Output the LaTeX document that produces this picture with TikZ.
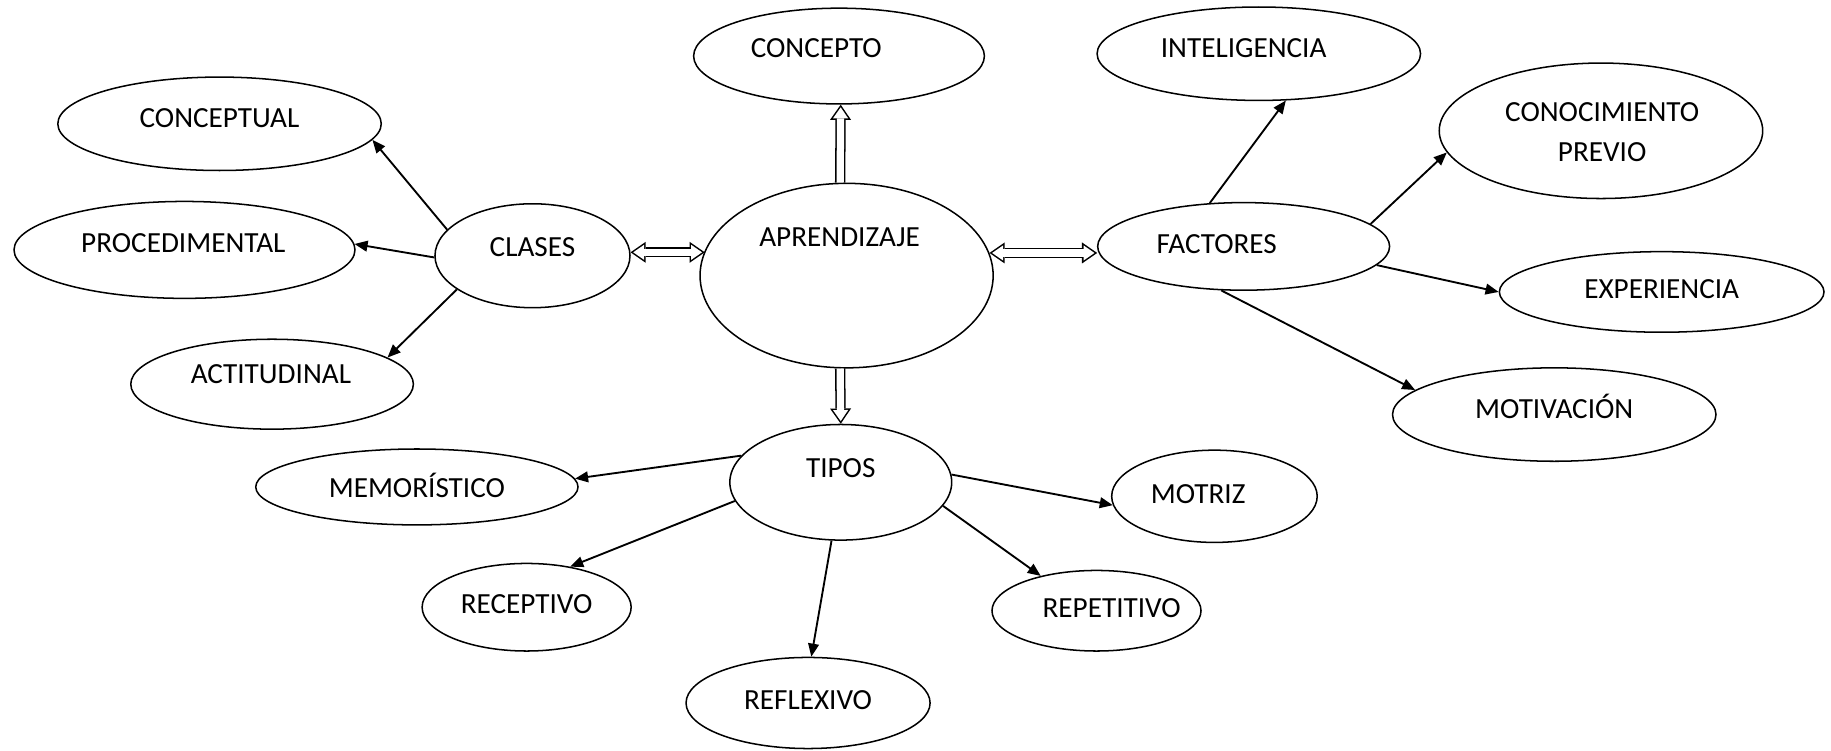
\documentclass[tikz,border=0pt]{standalone}
\usepackage{fontspec}
\setmainfont{Carlito}
\usetikzlibrary{shapes.geometric,arrows.meta}
\tikzset{
	>={Triangle[length=5.6pt,width=4.6pt]}
}

\begin{document}
\begin{tikzpicture}[
	x = 0.5pt,
	y = -0.5pt,
	line width = 0.65pt,
	every node/.style = {
		font = \fontsize{12.5}{17}\selectfont
	},
	oval/.style 2 args = {
		draw,
		ellipse,
		inner sep = 0pt,
		minimum width = #1*0.5pt,
		minimum height = #2*0.5pt
	},
	txt/.style = {
		inner sep = 0pt,
		text height = 8pt,
		text depth = 0pt
	},
	link/.style = {
		->,
		line width = 0.8pt
	},
	hollow/.style = {
		line width = 4.4pt,
		-{Triangle[length=6.5pt,width=9pt,line width=0pt]},
		postaction = {draw=white, line width=3.1pt, shorten >=1.15pt,
			-{Triangle[length=4.7pt,width=6.5pt,line width=0pt]}}
	},
	hollow both/.style = {
		line width = 4.4pt,
		{Triangle[length=6.5pt,width=9pt,line width=0pt]}-{Triangle[length=6.5pt,width=9pt,line width=0pt]},
		postaction = {draw=white, line width=3.1pt, shorten >=1.15pt, shorten <=1.15pt,
			{Triangle[length=4.7pt,width=6.5pt,line width=0pt]}-{Triangle[length=4.7pt,width=6.5pt,line width=0pt]}}
	}
	]
	
	\useasboundingbox (0,0) rectangle (1568,643);
	
	% centro
	\node (aprendizaje) [oval={251}{158}] at (725,236) {};
	\node (aprendizaje_txt) [txt] at (719,203) {APRENDIZAJE};
	\node (concepto) [oval={249}{82}] at (718.5,48) {};
	\node (concepto_txt) [txt] at (699,41) {CONCEPTO};
	
	% clases
	\node (clases) [oval={167}{89}] at (456,219) {};
	\node (clases_txt) [txt] at (456,212) {CLASES};
	\node (conceptual) [oval={277}{80}] at (188,106) {};
	\node (conceptual_txt) [txt] at (188,101) {CONCEPTUAL};
	\node (procedimental) [oval={292}{83}] at (158,214) {};
	\node (procedimental_txt) [txt] at (157,208) {PROCEDIMENTAL};
	\node (actitudinal) [oval={242}{77}] at (233,329) {};
	\node (actitudinal_txt) [txt] at (232,320) {ACTITUDINAL};
	
	% factores
	\node (factores) [oval={250}{75}] at (1065,211) {};
	\node (factores_txt) [txt] at (1042,209) {FACTORES};
	\node (inteligencia) [oval={277}{80}] at (1078,46) {};
	\node (inteligencia_txt) [txt] at (1065,41) {INTELIGENCIA};
	\node (conocimiento) [oval={277}{116}] at (1371,112) {};
	\node (conocimiento_txt) [inner sep=0pt, align=center] at (1372,113) {CONOCIMIENTO\\PREVIO};
	\node (experiencia) [oval={278}{69}] at (1423,250) {};
	\node (experiencia_txt) [txt] at (1423,248) {EXPERIENCIA};
	\node (motivacion) [oval={277}{80}] at (1331,355) {};
	\node (motivacion_txt) [txt] at (1331,350) {MOTIVACIÓN};
	
	% tipos
	\node (tipos) [oval={190}{99}] at (720,413) {};
	\node (tipos_txt) [txt] at (720,401) {TIPOS};
	\node (memoristico) [oval={276}{65}] at (357,417) {};
	\node (memoristico_txt) [txt] at (357,418) {MEMORÍSTICO};
	\node (receptivo) [oval={179}{75}] at (451,520) {};
	\node (receptivo_txt) [txt] at (451,517) {RECEPTIVO};
	\node (reflexivo) [oval={209}{78}] at (692,602) {};
	\node (reflexivo_txt) [txt] at (692,600) {REFLEXIVO};
	\node (repetitivo) [oval={179}{69}] at (939,523) {};
	\node (repetitivo_txt) [txt] at (952,521) {REPETITIVO};
	\node (motriz) [oval={176}{79}] at (1040,425) {};
	\node (motriz_txt) [txt] at (1026,423) {MOTRIZ};
	
	% flechas huecas
	\draw[hollow both] (clases.2.7) -- (clases.2.7 -| aprendizaje.170);
	\draw[hollow both] (aprendizaje.9.6) -- (aprendizaje.9.6 -| factores.181.8);
	\draw[hollow] (aprendizaje.94) -- (concepto.-88);
	\draw[hollow] (aprendizaje.-94) -- (tipos.90);
	
	% flechas
	\draw[link] (clases.163) -- (conceptual.-6.4);
	\draw[link] (clases.181) -- (procedimental.2.4);
	\draw[link] (clases.204) -- (actitudinal.13.5);
	\draw[link] (factores.128) -- (inteligencia.-60.4);
	\draw[link] (factores.10) -- (conocimiento.188.3);
	\draw[link] (factores.-8.4) -- (experiencia.180);
	\draw[link] (factores.-117.2) -- (motivacion.170.4);
	\draw[link] (tipos.165) -- (memoristico.3.8);
	\draw[link] (tipos.190.6) -- (receptivo.43.5);
	\draw[link] (tipos.261) -- (reflexivo.86.7);
	\draw[link] (tipos.-13.6) -- (repetitivo.148.5);
	\draw[link] (tipos.4.8) -- (motriz.185.3);
	
\end{tikzpicture}
\end{document}
